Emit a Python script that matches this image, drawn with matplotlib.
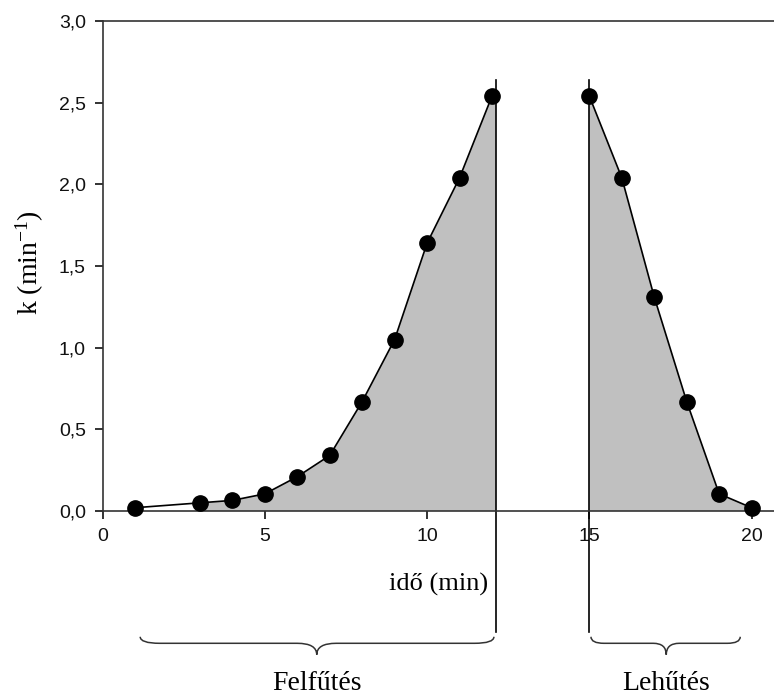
import numpy as np
import matplotlib
matplotlib.use('Agg')
import matplotlib.pyplot as plt
from matplotlib.path import Path
from matplotlib.patches import PathPatch
from matplotlib.ticker import FuncFormatter

# heating phase
heat_t = [1, 3, 4, 5, 6, 7, 8, 9, 10, 11, 12]
heat_k = [0.02, 0.05, 0.065, 0.105, 0.21, 0.34, 0.67, 1.05, 1.64, 2.04, 2.54]
# cooling phase
cool_t = [15, 16, 17, 18, 19, 20]
cool_k = [2.54, 2.04, 1.31, 0.67, 0.105, 0.02]

x_ticks = [0, 5, 10, 15, 20]
y_ticks = [0.0, 0.5, 1.0, 1.5, 2.0, 2.5, 3.0]

plt.rcParams['mathtext.default'] = 'regular'
serif = ['Liberation Serif', 'DejaVu Serif']
sans = ['Liberation Sans', 'DejaVu Sans']


def brace(ax, x0, x1, xm, y_top, y_mid, y_tip, r):
  verts = [(x0, y_top), (x0, y_mid), (x0 + r, y_mid),
           (xm - r, y_mid), (xm, y_mid), (xm, y_tip),
           (xm, y_mid), (xm + r, y_mid),
           (x1 - r, y_mid), (x1, y_mid), (x1, y_top)]
  codes = [Path.MOVETO, Path.CURVE3, Path.CURVE3,
           Path.LINETO, Path.CURVE3, Path.CURVE3,
           Path.CURVE3, Path.CURVE3,
           Path.LINETO, Path.CURVE3, Path.CURVE3]
  ax.add_patch(PathPatch(Path(verts, codes), fill=False, lw=1.1,
                         color='#333333', clip_on=False))


fig = plt.figure(figsize=(7.74, 7.0), dpi=100)
ax = fig.add_axes([0.1325, 0.27, 0.8675, 0.70])

x_wall = 12.12

# shaded areas
ax.fill([heat_t[1]] + heat_t[1:] + [x_wall, x_wall],
        [0] + heat_k[1:] + [heat_k[-1], 0],
        color='#c0c0c0', lw=0, zorder=1)
ax.fill(cool_t + [cool_t[-1], cool_t[0]], cool_k + [0, 0],
        color='#c0c0c0', lw=0, zorder=1)

ax.plot(heat_t, heat_k, color='black', lw=1.2, marker='o', ms=11, zorder=3,
        clip_on=False)
ax.plot(cool_t, cool_k, color='black', lw=1.2, marker='o', ms=11, zorder=3,
        clip_on=False)

# separating walls
ax.plot([x_wall, x_wall], [-0.74, 2.64], color='black', lw=1.2, clip_on=False)
ax.plot([cool_t[0], cool_t[0]], [-0.74, 2.64], color='black', lw=1.2,
        clip_on=False)

ax.set_xlim(0, 20.69)
ax.set_ylim(0, 3.0)
ax.set_xticks(x_ticks)
ax.set_yticks(y_ticks)
ax.yaxis.set_major_formatter(FuncFormatter(lambda v, _: f'{v:.1f}'.replace('.', ',')))
ax.tick_params(direction='out', length=6, width=1.2, labelsize=14, pad=6,
               colors='#111111')
for lab in ax.get_xticklabels() + ax.get_yticklabels():
  lab.set_family(sans)

ax.spines['right'].set_visible(False)
for s in ['left', 'bottom', 'top']:
  ax.spines[s].set_linewidth(1.2)
  ax.spines[s].set_color('#333333')

ax.text(10.35, -0.45, 'idő (min)', ha='center', va='center', fontsize=19,
        family=serif)
ax.text(-2.25, 1.52, r'k (min$^{-1}$)', ha='center', va='center', fontsize=20,
        family=serif, rotation=90)

brace(ax, 1.16, x_wall - 0.06, 6.6, -0.77, -0.81, -0.88, 0.6)
brace(ax, 15.05, 19.65, 17.37, -0.77, -0.81, -0.88, 0.4)

ax.text(6.6, -1.055, 'Felfűtés', ha='center', va='center', fontsize=20,
        family=serif)
ax.text(17.37, -1.055, 'Lehűtés', ha='center', va='center', fontsize=20,
        family=serif)

fig.savefig('out.png', dpi=100)
